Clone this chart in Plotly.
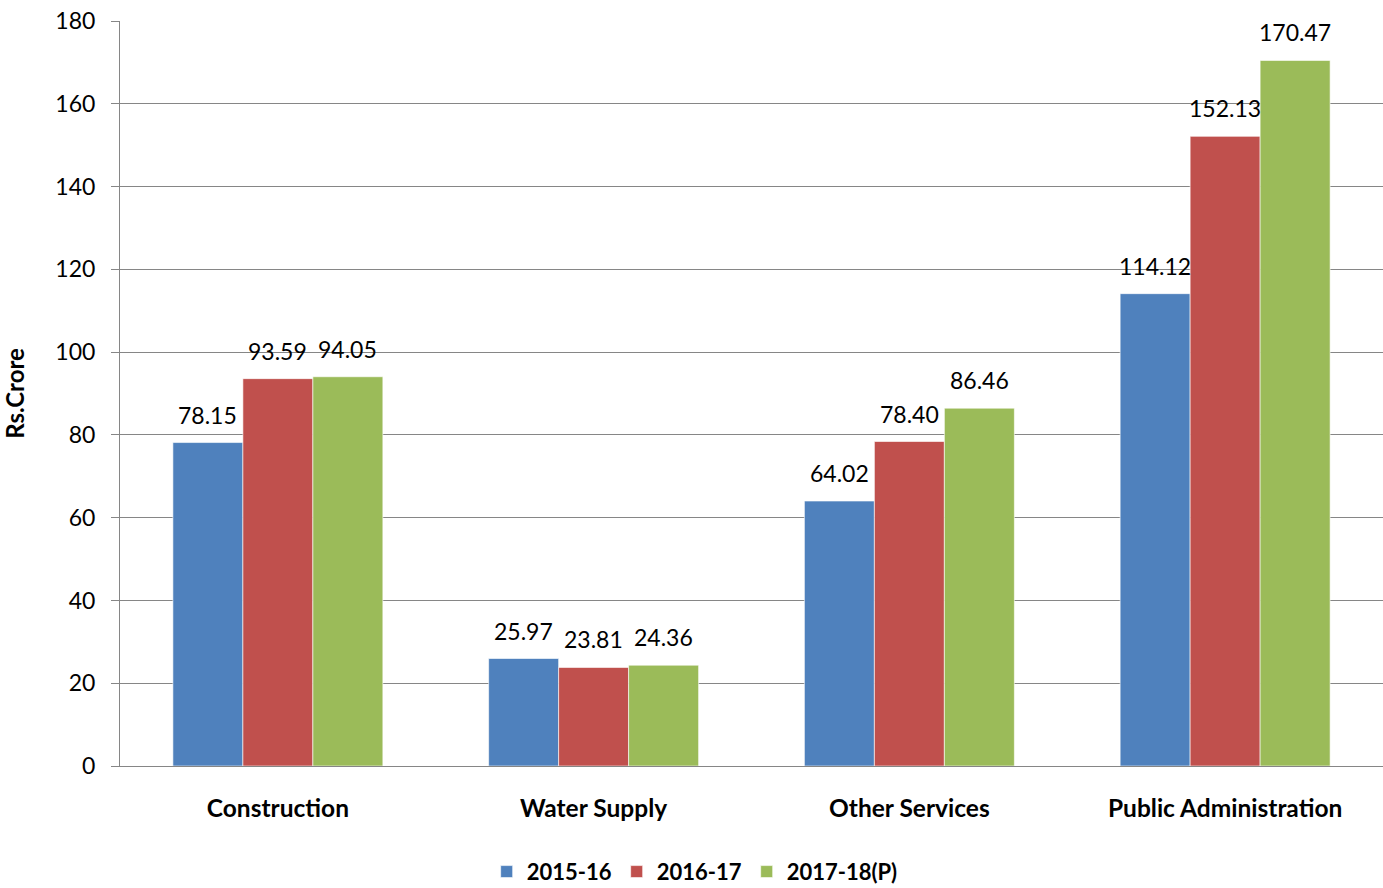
import plotly.graph_objects as go

categories = ["Construction", "Water Supply", "Other Services", "Public Administration"]
series_names = ["2015-16", "2016-17", "2017-18(P)"]
values_2015_16 = [78.15, 25.97, 64.02, 114.12]
values_2016_17 = [93.59, 23.81, 78.40, 152.13]
values_2017_18 = [94.05, 24.36, 86.46, 170.47]
colors = ["#4F81BD", "#C0504D", "#9BBB59"]

FONT = "Lato, 'Open Sans', sans-serif"
W, H = 1383, 888
ML, MR, MT, MB = 120, 0, 21, 122
BARGAP = 0.335

fig = go.Figure()
all_series = [values_2015_16, values_2016_17, values_2017_18]
for name, vals, col in zip(series_names, all_series, colors):
    fig.add_trace(go.Bar(
        x=categories, y=vals, name=name,
        marker=dict(color=col, line=dict(color="rgba(255,255,255,0.6)", width=1)),
        cliponaxis=False,
    ))

# data labels placed above bars (Excel-like gap)
plot_w = W - ML - MR
bar_px = plot_w / len(categories) * (1 - BARGAP) / len(all_series)
annotations = []
for i, vals in enumerate(all_series):
    for cat, v in zip(categories, vals):
        annotations.append(dict(
            x=cat, y=v, xref="x", yref="y", text=f"{v:.2f}", showarrow=False,
            xshift=(i - 1) * bar_px, yshift=28, yanchor="middle", xanchor="center",
            font=dict(family=FONT, size=23, color="black"),
        ))

fig.update_layout(
    width=W, height=H,
    margin=dict(l=ML, r=MR, t=MT, b=MB, autoexpand=False),
    paper_bgcolor="white", plot_bgcolor="white",
    barmode="group", bargap=BARGAP, bargroupgap=0,
    font=dict(family=FONT, color="black"),
    showlegend=True,
    legend=dict(orientation="h", x=0.455, xanchor="center", y=-0.142, yanchor="middle",
                font=dict(family=FONT, size=22, color="black", weight="bold"),
                itemwidth=30, traceorder="normal"),
    annotations=annotations,
)
fig.update_yaxes(
    range=[0, 180], dtick=20, showgrid=True, gridcolor="#868686", gridwidth=1,
    showline=True, linecolor="#868686", linewidth=1,
    ticks="outside", ticklen=8, tickcolor="#868686",
    tickfont=dict(family=FONT, size=23, color="black"),
    ticklabelstandoff=11,
    title=dict(text="Rs.Crore", font=dict(family=FONT, size=24, color="black", weight="bold"), standoff=26),
    zeroline=False, automargin=False,
)
fig.update_xaxes(
    showline=True, linecolor="#868686", linewidth=1,
    tickfont=dict(family=FONT, size=24.5, color="black", weight="bold"),
    ticklabelstandoff=21, automargin=False,
)
fig.write_html("out.html", config={"displayModeBar": False},
               post_script="document.body.style.margin='0';document.body.style.overflow='hidden';")
